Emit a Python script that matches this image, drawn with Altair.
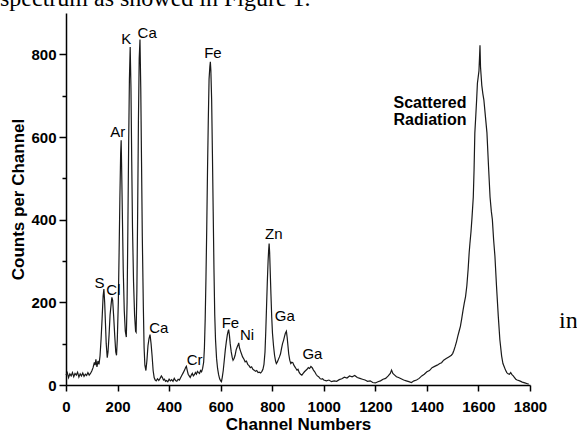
import altair as alt
import pandas as pd

channels = [0, 5, 10, 15, 20, 25, 30, 35, 40, 45, 50, 55, 60, 65, 70, 75, 80, 85, 90, 95,
            100, 105, 110, 113, 116, 120, 124, 128, 132, 136, 140, 144, 147, 150, 153, 156, 160, 163, 167, 171,
            175, 178, 181, 185, 189, 193, 196, 199, 203, 206, 209, 212, 214, 216, 219, 222, 226, 230, 234, 237,
            240, 243, 246, 249, 252, 255, 258, 262, 266, 270, 272, 275, 278, 281, 284, 287, 290, 293, 296, 300,
            303, 306, 310, 314, 318, 322, 326, 330, 334, 338, 342, 346, 350, 355, 360, 365, 370, 374, 378, 382,
            386, 390, 395, 400, 405, 410, 415, 420, 425, 430, 435, 440, 445, 450, 455, 460, 464, 467, 470, 474,
            478, 482, 486, 490, 494, 498, 502, 506, 510, 514, 518, 522, 526, 530, 534, 537, 540, 543, 546, 549,
            552, 555, 558, 560, 562, 565, 568, 571, 574, 577, 580, 584, 588, 592, 596, 600, 603, 606, 610, 614,
            618, 622, 626, 629, 631, 634, 637, 641, 645, 648, 652, 656, 660, 664, 667, 670, 673, 677, 681, 685,
            690, 695, 700, 705, 710, 715, 720, 725, 730, 735, 740, 745, 750, 755, 760, 764, 768, 772, 775, 778,
            781, 784, 786, 788, 790, 792, 795, 798, 801, 805, 809, 813, 816, 820, 824, 828, 832, 836, 840, 844,
            848, 851, 855, 858, 861, 864, 868, 872, 876, 880, 884, 888, 892, 896, 900, 905, 910, 915, 920, 925,
            930, 935, 940, 945, 950, 955, 960, 965, 970, 975, 980, 985, 990, 995, 1000, 1010, 1020, 1030, 1040, 1050,
            1060, 1070, 1080, 1090, 1100, 1110, 1120, 1130, 1140, 1150, 1160, 1170, 1180, 1190, 1200, 1210, 1220, 1230, 1240, 1250,
            1258, 1263, 1268, 1275, 1282, 1290, 1300, 1310, 1320, 1330, 1340, 1350, 1360, 1370, 1380, 1390, 1400, 1410, 1420, 1430,
            1440, 1450, 1457, 1465, 1475, 1485, 1495, 1500, 1505, 1510, 1515, 1520, 1525, 1530, 1535, 1540, 1545, 1550, 1555, 1560,
            1564, 1567, 1571, 1575, 1580, 1583, 1586, 1590, 1593, 1596, 1599, 1602, 1604, 1606, 1608, 1610, 1613, 1617, 1621, 1627,
            1633, 1639, 1645, 1650, 1654, 1659, 1664, 1670, 1677, 1683, 1690, 1695, 1700, 1705, 1710, 1715, 1720, 1725, 1730, 1735,
            1740, 1745, 1750, 1760, 1770, 1780, 1790, 1795]

counts = [24, 30, 18, 27, 22, 30, 20, 28, 24, 31, 19, 27, 22, 29, 21, 26, 23, 30, 24, 28,
          34, 42, 55, 48, 62, 44, 58, 50, 70, 110, 160, 215, 232, 200, 150, 100, 66, 80, 120, 170,
          195, 212, 205, 165, 120, 80, 72, 110, 200, 320, 450, 560, 592, 520, 400, 280, 180, 130, 116, 200,
          380, 580, 740, 818, 720, 540, 380, 250, 170, 130, 128, 230, 420, 640, 790, 836, 720, 540, 360, 190,
          90, 48, 35, 60, 95, 112, 122, 100, 70, 35, 18, 12, 10, 15, 11, 16, 22, 18, 12, 14,
          9, 11, 8, 14, 10, 13, 9, 16, 11, 9, 14, 12, 18, 24, 30, 36, 42, 45, 36, 26,
          22, 18, 24, 28, 22, 25, 30, 26, 33, 30, 28, 35, 32, 40, 55, 90, 160, 260, 380, 520,
          640, 740, 770, 782, 760, 690, 560, 420, 280, 170, 110, 65, 40, 25, 15, 10, 8, 18, 35, 60,
          85, 105, 122, 130, 134, 120, 100, 80, 66, 60, 64, 72, 85, 92, 96, 102, 90, 82, 75, 68,
          63, 56, 58, 50, 47, 42, 44, 38, 36, 33, 35, 30, 31, 29, 33, 38, 50, 80, 130, 190,
          250, 300, 325, 342, 320, 280, 220, 165, 125, 95, 72, 58, 52, 56, 62, 68, 75, 88, 100, 108,
          118, 125, 130, 115, 95, 75, 60, 52, 55, 54, 48, 44, 40, 36, 38, 30, 26, 24, 28, 32,
          35, 38, 42, 40, 45, 42, 36, 32, 26, 22, 20, 16, 14, 15, 12, 10, 12, 8, 10, 9,
          13, 15, 19, 17, 22, 20, 23, 18, 16, 14, 12, 9, 10, 6, 5, 8, 10, 14, 16, 22,
          28, 36, 28, 24, 20, 18, 15, 12, 10, 8, 6, 10, 12, 16, 22, 26, 32, 35, 42, 45,
          48, 52, 54, 60, 64, 68, 72, 76, 84, 94, 105, 118, 130, 142, 160, 180, 198, 214, 240, 280,
          320, 343, 370, 405, 455, 520, 610, 655, 690, 730, 745, 760, 790, 822, 770, 752, 725, 705, 690, 650,
          610, 530, 455, 420, 400, 350, 311, 240, 166, 110, 70, 52, 44, 36, 30, 27, 26, 30, 25, 22,
          18, 14, 12, 10, 7, 5, 3, 2]

peak_labels = ["S", "Cl", "Ar", "K", "Ca", "Fe", "Ca", "Cr", "Fe", "Ni", "Zn", "Ga", "Ga"]
peak_label_x = [130, 184, 201, 234, 315, 570, 360, 499, 638, 702, 806, 849, 956]
peak_label_y = [247, 229, 612, 838, 852, 804, 137, 61, 150, 121, 365, 166, 75]

scatter_lines = ["Scattered", "Radiation"]
scatter_x = [1412, 1412]
scatter_y = [682, 642]

x_ticks = list(range(0, 1801, 100))
y_ticks = list(range(0, 801, 100))

spec = pd.DataFrame({"channel": channels, "count": counts})
ann = pd.DataFrame({"label": peak_labels, "x": peak_label_x, "y": peak_label_y})
sc = pd.DataFrame({"label": scatter_lines, "x": scatter_x, "y": scatter_y})

FONT = "Liberation Sans"

xscale = alt.Scale(domain=[0, 1800], nice=False, zero=False)
yscale = alt.Scale(domain=[0, 900], nice=False)

x_axis = alt.Axis(
    values=x_ticks, format="d",
    labelExpr="datum.value % 200 === 0 ? datum.label : ''",
    tickSize={"condition": {"test": "datum.value % 200 === 0", "value": 6}, "value": 4},
    grid=False, labelFont=FONT, labelFontWeight="bold", labelFontSize=15, labelColor="black",
    labelPadding=8, labelOverlap=False, labelFlush=False,
    domainColor="black", domainWidth=1.5, tickColor="black", tickWidth=1.5,
    title="Channel Numbers", titleFont=FONT, titleFontWeight="bold", titleFontSize=17,
    titleColor="black", titlePadding=2,
)
y_axis = alt.Axis(
    values=y_ticks, format="d",
    labelExpr="datum.value % 200 === 0 ? datum.label : ''",
    tickSize={"condition": {"test": "datum.value % 200 === 0", "value": 7}, "value": 4},
    grid=False, labelFont=FONT, labelFontWeight="bold", labelFontSize=15, labelColor="black",
    labelPadding=3, labelOverlap=False, labelFlush=False,
    domainColor="black", domainWidth=1.5, tickColor="black", tickWidth=1.5,
    title="Counts per Channel", titleFont=FONT, titleFontWeight="bold", titleFontSize=17,
    titleColor="black", titlePadding=3,
)

line = alt.Chart(spec).mark_line(color="#1a1a1a", strokeWidth=1.2).encode(
    x=alt.X("channel:Q", scale=xscale, axis=x_axis),
    y=alt.Y("count:Q", scale=yscale, axis=y_axis),
)

labels = alt.Chart(ann).mark_text(font=FONT, fontSize=15, color="black", align="center", baseline="middle").encode(
    x=alt.X("x:Q", scale=xscale), y=alt.Y("y:Q", scale=yscale), text="label:N"
)

scat = alt.Chart(sc).mark_text(font=FONT, fontSize=16, fontWeight="bold", color="black",
                               align="center", baseline="middle").encode(
    x=alt.X("x:Q", scale=xscale), y=alt.Y("y:Q", scale=yscale), text="label:N"
)

top_text = alt.Chart(pd.DataFrame({"t": ["spectrum as showed in Figure 1."]})).mark_text(
    font="Liberation Serif", fontSize=24, color="black", align="left", baseline="alphabetic"
).encode(x=alt.value(-66), y=alt.value(-7), text="t:N")

in_text = alt.Chart(pd.DataFrame({"t": ["in"]})).mark_text(
    font="Liberation Serif", fontSize=24, color="black", align="left", baseline="alphabetic"
).encode(x=alt.value(493), y=alt.value(315), text="t:N")

chart = alt.layer(line, labels, scat, top_text, in_text).properties(
    width=464, height=372,
    autosize=alt.AutoSizeParams(type="none"),
    padding={"left": 66, "top": 13, "right": 47, "bottom": 50},
    background="white",
).configure_view(stroke=None)

chart.save("out.html", embed_options={"renderer": "svg", "actions": False})
